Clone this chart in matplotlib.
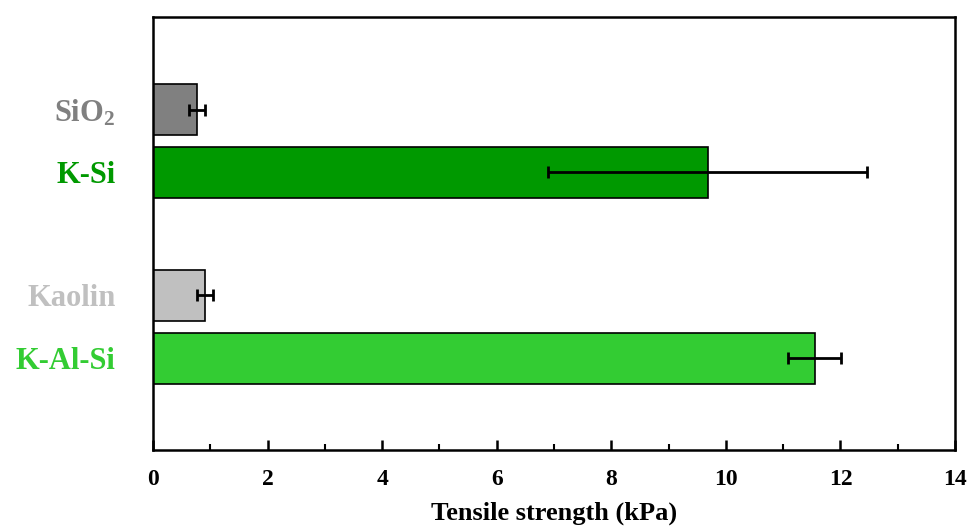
import matplotlib.pyplot as plt
import numpy as np
from matplotlib.ticker import MultipleLocator

plt.rcParams['font.family'] = ['Liberation Serif', 'DejaVu Serif']
plt.rcParams['font.weight'] = 'bold'
plt.rcParams['axes.labelweight'] = 'bold'
plt.rcParams['mathtext.fontset'] = 'custom'
plt.rcParams['mathtext.rm'] = 'Liberation Serif:bold'
plt.rcParams['mathtext.it'] = 'Liberation Serif:bold'
plt.rcParams['mathtext.bf'] = 'Liberation Serif:bold'

# data (top to bottom in the chart)
labels = ['SiO$_2$', 'K-Si', 'Kaolin', 'K-Al-Si']
strength = [0.77, 9.68, 0.91, 11.55]
err = [0.14, 2.79, 0.14, 0.46]
colors = ['#808080', '#009900', '#c0c0c0', '#33cc33']
ypos = [3.95, 2.95, 1.0, 0.0]

fig = plt.figure(figsize=(9.68, 5.29), dpi=100)
ax = fig.add_axes([0.158, 0.1493, 0.8286, 0.8186])

ax.barh(ypos, strength, height=0.81, color=colors, edgecolor='black', linewidth=1.2,
        xerr=err, error_kw=dict(ecolor='black', elinewidth=2, capsize=4.5, capthick=2))

ax.set_xlim(0, 14)
ax.set_ylim(-1.46, 5.42)
ax.xaxis.set_major_locator(MultipleLocator(2))
ax.xaxis.set_minor_locator(MultipleLocator(1))
ax.tick_params(axis='x', which='major', direction='in', length=7, width=1.8, labelsize=17, pad=14)
ax.tick_params(axis='x', which='minor', direction='in', length=4, width=1.5)
ax.set_yticks(ypos)
ax.set_yticklabels(labels, fontsize=22)
ax.tick_params(axis='y', length=0, pad=27)
for t, c in zip(ax.get_yticklabels(), colors):
    t.set_color(c)
for s in ax.spines.values():
    s.set_linewidth(1.8)

ax.set_xlabel('Tensile strength (kPa)', fontsize=19, fontweight='bold', labelpad=8)

plt.savefig('out.png')
